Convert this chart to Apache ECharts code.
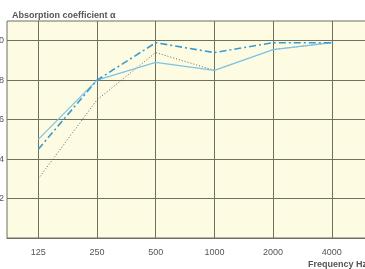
<!DOCTYPE html>
<html>
<head>
<meta charset="utf-8">
<script src="https://cdn.jsdelivr.net/npm/echarts@6/dist/echarts.min.js"></script>
<style>
  html, body { margin: 0; padding: 0; background: #ffffff; }
  #chart { width: 365px; height: 269px; }
</style>
</head>
<body>
<div id="chart"></div>
<script>
// frequency bands (Hz)
var freqs = ['125', '250', '500', '1000', '2000', '4000'];
// absorption coefficient per band
var solidLine = [0.50, 0.80, 0.89, 0.85, 0.955, 0.99];
var dashDotLine = [0.45, 0.80, 0.99, 0.94, 0.99, 0.99];
var dottedLine = [0.30, 0.70, 0.94, 0.85, 0.955, 0.99];
var yTicks = [0.2, 0.4, 0.6, 0.8, 1.0];

function toPoints(arr) {
  return arr.map(function (v, i) { return [i, v]; });
}

var chart = echarts.init(document.getElementById('chart'));
var labelColor = '#555555';
var gridColor = '#6f6f62';

chart.setOption({
  animation: false,
  textStyle: { fontFamily: 'Liberation Sans' },
  title: [
    {
      text: 'Absorption coefficient \u03b1',
      left: 7, top: 6,
      textStyle: { fontSize: 9, fontWeight: 'bold', color: labelColor }
    },
    {
      text: 'Frequency Hz',
      left: 303, top: 255,
      textStyle: { fontSize: 9, fontWeight: 'bold', color: labelColor }
    }
  ],
  grid: {
    left: 7, top: 21, right: -12, bottom: 31,
    outerBoundsMode: 'none',
    containLabel: false,
    show: true,
    backgroundColor: '#fdfbe2',
    borderColor: gridColor,
    borderWidth: 1
  },
  xAxis: {
    type: 'value',
    min: -0.533,
    max: 5.77,
    axisLine: { show: true, lineStyle: { color: gridColor } },
    axisTick: { show: false, customValues: [0, 1, 2, 3, 4, 5] },
    axisLabel: {
      customValues: [0, 1, 2, 3, 4, 5],
      formatter: function (v) { return freqs[Math.round(v)]; },
      color: labelColor, fontSize: 9, margin: 10
    },
    splitLine: { show: true, lineStyle: { color: gridColor, width: 1 } }
  },
  yAxis: {
    type: 'value',
    min: 0,
    max: 1.1,
    axisLine: { show: true, lineStyle: { color: gridColor } },
    axisTick: { show: false, customValues: yTicks },
    axisLabel: {
      customValues: yTicks,
      formatter: function (v) { return v.toFixed(1); },
      color: labelColor, fontSize: 9, margin: 3
    },
    splitLine: { show: true, lineStyle: { color: gridColor, width: 1 } }
  },
  series: [
    {
      type: 'line',
      data: toPoints(dottedLine),
      symbol: 'none',
      lineStyle: { color: '#6b6454', width: 1, type: [1, 2] }
    },
    {
      type: 'line',
      data: toPoints(solidLine),
      symbol: 'none',
      lineStyle: { color: '#7cc3e6', width: 1.2 }
    },
    {
      type: 'line',
      data: toPoints(dashDotLine),
      symbol: 'none',
      lineStyle: { color: '#3a9ccf', width: 1.6, type: [7, 3, 2, 3] }
    }
  ]
});
</script>
</body>
</html>
